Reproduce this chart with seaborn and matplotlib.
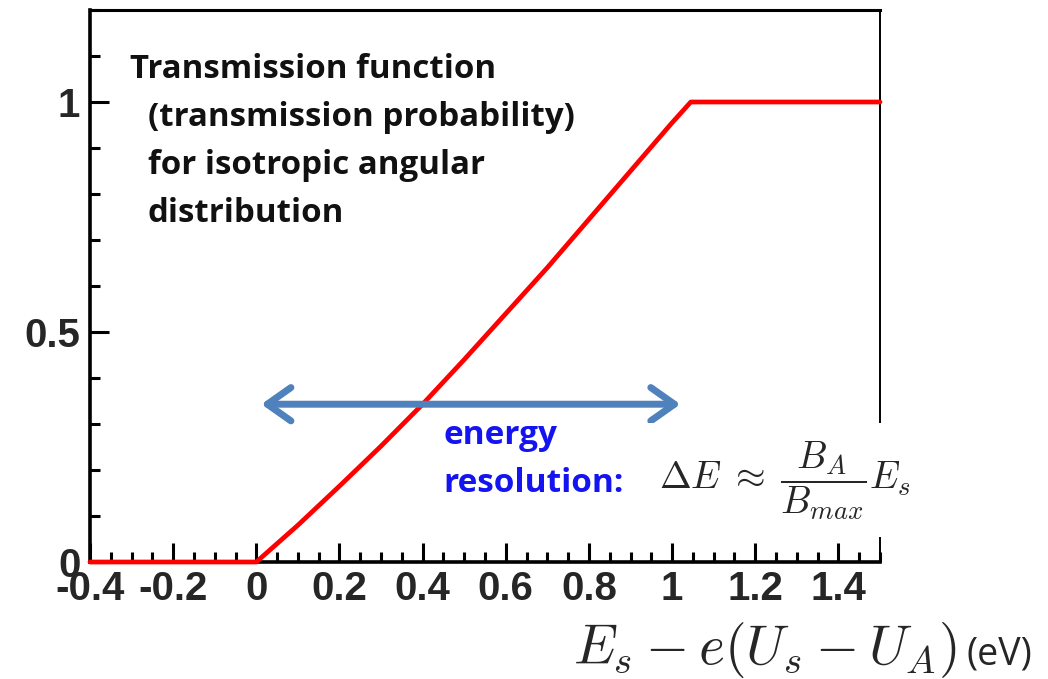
import numpy as np
import pandas as pd
import matplotlib
matplotlib.use("Agg")
import matplotlib.pyplot as plt
import seaborn as sns
from matplotlib.ticker import MultipleLocator

# ---- data ----
energy = [-0.4, 0.0, 0.1, 0.2, 0.3, 0.4, 0.5, 0.6, 0.7, 0.8, 0.9, 1.0, 1.045, 1.5]
transmission = [0.0, 0.0, 0.08, 0.165, 0.252, 0.343, 0.44, 0.54, 0.64, 0.745, 0.85, 0.955, 1.0, 1.0]
x_ticks = [-0.4, -0.2, 0.0, 0.2, 0.4, 0.6, 0.8, 1.0, 1.2, 1.4]
x_tick_labels = ["-0.4", "-0.2", "0", "0.2", "0.4", "0.6", "0.8", "1", "1.2", "1.4"]
y_ticks = [0.0, 0.5, 1.0]
y_tick_labels = ["0", "0.5", "1"]
info_lines = ["Transmission function", "(transmission probability)",
              "for isotropic angular", "distribution"]
resolution_lines = ["energy", "resolution:"]
arrow_span = [0.012, 1.02]
arrow_level = 0.343

sns.set_style("ticks")
plt.rcParams["font.family"] = ["Liberation Sans", "DejaVu Sans"]
plt.rcParams["mathtext.fontset"] = "cm"

fig = plt.figure(figsize=(10.48, 6.79), dpi=100)
ax = fig.add_axes([90 / 1048, 1 - 562 / 679, 790 / 1048, 552 / 679])

df = pd.DataFrame({"E": energy, "T": transmission})
sns.lineplot(data=df, x="E", y="T", color="#FF0000", lw=3.4, ax=ax,
             clip_on=False, zorder=4, sort=False)

ax.set_xlim(-0.4, 1.5)
ax.set_ylim(0, 1.2)
ax.set_xlabel("")
ax.set_ylabel("")

ax.set_xticks(x_ticks)
ax.set_xticklabels(x_tick_labels, fontsize=29, fontweight="bold")
ax.set_yticks(y_ticks)
ax.set_yticklabels(y_tick_labels, fontsize=29, fontweight="bold")
ax.xaxis.set_minor_locator(MultipleLocator(0.05))
ax.yaxis.set_minor_locator(MultipleLocator(0.1))
ax.tick_params(which="major", direction="in", length=14, width=2.2, color="black",
               top=False, right=False)
ax.tick_params(which="minor", direction="in", length=7, width=2.2, color="black",
               top=False, right=False)
ax.tick_params(axis="x", which="major", pad=6)
ax.tick_params(axis="y", which="major", pad=7)

for side, lw in [("left", 2.6), ("bottom", 2.6), ("top", 2.2), ("right", 1.4)]:
    ax.spines[side].set_visible(True)
    ax.spines[side].set_linewidth(lw)
    ax.spines[side].set_color("black")

# info text
info_x = [-0.304, -0.261, -0.261, -0.261]
info_y = [(562 - 77) / 461, (562 - 125) / 461, (562 - 173) / 461, (562 - 221) / 461]
for txt, xx, yy in zip(info_lines, info_x, info_y):
    ax.text(xx, yy, txt, fontsize=23.8, fontweight="bold", family=["Open Sans", "DejaVu Sans"],
            color="#111111", va="baseline", ha="left")

# energy resolution arrow
ax.annotate("", xy=(arrow_span[1], arrow_level), xytext=(arrow_span[0], arrow_level),
            arrowprops=dict(arrowstyle="<->,head_length=0.85,head_width=0.6",
                            lw=5, color="#4F81BD", mutation_scale=20,
                            shrinkA=0, shrinkB=0), zorder=5)

res_y = [(562 - 444) / 461, (562 - 492) / 461]
for txt, yy in zip(resolution_lines, res_y):
    ax.text(0.45, yy, txt, fontsize=24, fontweight="bold", family=["Open Sans", "DejaVu Sans"],
            color="#1414F0", va="baseline", ha="left")

ax.text(1.272, 0.178, r"$\Delta E\;\approx\;\dfrac{B_A}{B_{max}}E_s$", fontsize=27.5,
        ha="center", va="center", clip_on=False, zorder=6,
        bbox=dict(facecolor="white", edgecolor="none", pad=11))

fig.text(765 / 1048, (679 - 664) / 679, r"$E_s - e(U_s - U_A)$", fontsize=40,
         ha="center", va="baseline")
fig.text(967 / 1048, (679 - 664) / 679, "(eV)", fontsize=27,
         family=["Open Sans", "DejaVu Sans"], ha="left", va="baseline")

fig.savefig("out.png", dpi=100)
